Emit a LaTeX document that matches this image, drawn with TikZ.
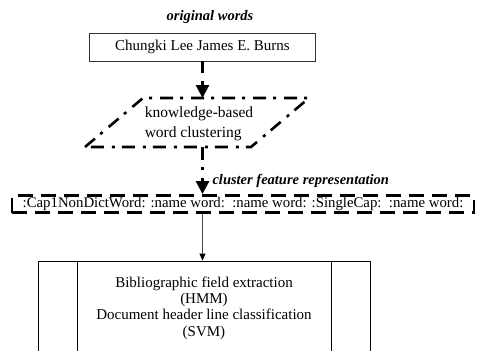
\documentclass[tikz,border=0pt]{standalone}
\usepackage{fontspec}
\setmainfont{Liberation Serif}
\usetikzlibrary{arrows.meta,calc}

\begin{document}
\begin{tikzpicture}[x=1pt,y=-1pt,
    txt/.style={font=\fontsize{15}{16.3}\selectfont},
    caption/.style={font=\fontsize{14.5}{16}\selectfont\bfseries\itshape},
    dashdotline/.style={line width=2.6pt, dash pattern=on 13pt off 7pt on 3pt off 8pt},
    bigarrow/.style={-{Triangle[length=13pt,width=13pt]}}]
  \useasboundingbox (0,0) rectangle (477,351);
  \clip (0,0) rectangle (477,351);

  % Original words
  \node[caption] (origlabel) at (210,17) {original words};
  \node[draw=black!80, line width=0.9pt, minimum width=226pt, minimum height=28pt, txt] (orig) at (202.5,47) {Chungki Lee James E. Burns};

  % Knowledge-based word clustering
  \coordinate (ptl) at (143,98);
  \coordinate (pbl) at (85,147);
  \draw[dashdotline] (pbl) -- (ptl) -- (309,98) -- (251,147) -- cycle;
  \node[font=\fontsize{15.5}{20}\selectfont, align=left] (cluster) at (199,124) {knowledge-based\\word clustering};

  % Cluster feature representation
  \node[draw, line width=2.8pt, dash pattern=on 15pt off 8pt, inner ysep=1pt, minimum width=462pt, minimum height=17pt, font=\fontsize{14.8}{16}\selectfont] (feat) at (243,204) {:Cap1NonDictWord: :name word:\ \ :name word: :SingleCap:\ \ :name word:};
  \node[caption, anchor=west] (featlabel) at (209,181) {cluster feature representation};

  % Field extraction / classification
  \node[draw, line width=0.9pt, minimum width=332pt, minimum height=94pt, txt, align=center] (hmm) at (204,308) {Bibliographic field extraction\\(HMM)\\Document header line classification\\(SVM)};
  \draw[line width=0.9pt] ($(hmm.north west)+(40,0)$) -- ($(hmm.south west)+(40,0)$);
  \draw[line width=0.9pt] ($(hmm.north east)+(-39,0)$) -- ($(hmm.south east)+(-39,0)$);

  % Arrows
  \draw[line width=2.8pt, dash pattern=on 12pt off 8pt, bigarrow] (orig.south) -- (orig.south |- ptl);
  \draw[dashdotline, bigarrow] (orig.south |- pbl) -- (orig.south |- feat.north);
  \draw[black!70, line width=0.9pt, -{Triangle[length=7pt,width=6pt,black]}] (feat.south -| orig.south) -- (hmm.north -| orig.south);
\end{tikzpicture}
\end{document}
